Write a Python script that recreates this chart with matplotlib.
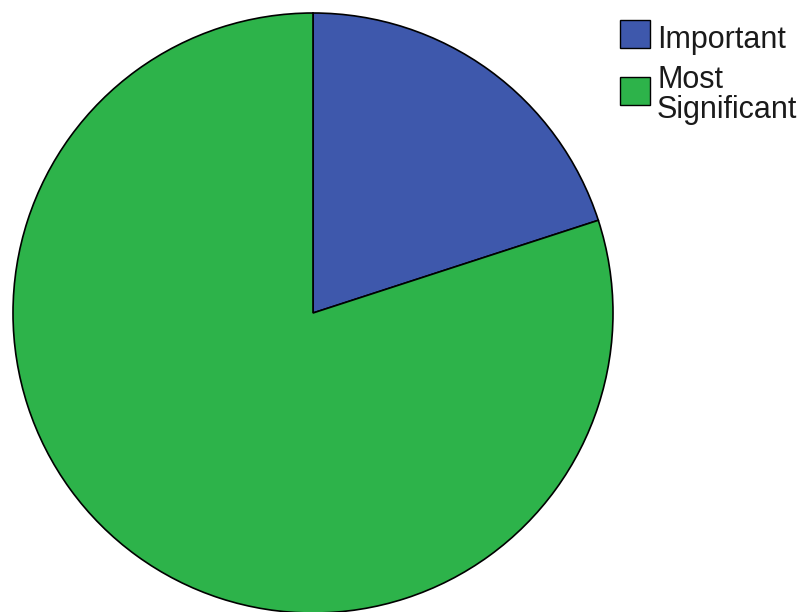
import matplotlib
matplotlib.use("Agg")
import matplotlib.pyplot as plt
from matplotlib.patches import Rectangle

labels = ["Important", "Most\nSignificant"]
values = [20, 80]
colors = ["#3e58ac", "#2db34a"]

W, H = 806, 612
fig = plt.figure(figsize=(W / 100, H / 100), dpi=100)

# pie centre (313, 313) px, radius 300 px
cx, cy, r = 313, 313, 300
ax = fig.add_axes([(cx - r) / W, (H - cy - r) / H, 2 * r / W, 2 * r / H])
wedges, _ = ax.pie(values, colors=colors, startangle=90, counterclock=False,
                   radius=1.0, wedgeprops=dict(edgecolor="black", linewidth=1.2))
ax.set_xlim(-1, 1)
ax.set_ylim(-1, 1)
ax.set_aspect("equal")
ax.axis("off")

# legend drawn by hand (pixel positions from the top left)
font = ["Liberation Sans", "DejaVu Sans"]
box_tops = [20, 77]
for i, (lab, col) in enumerate(zip(labels, colors)):
    top = box_tops[i]
    fig.add_artist(Rectangle((620 / W, 1 - (top + 28) / H), 30 / W, 28 / H,
                             transform=fig.transFigure, facecolor=col,
                             edgecolor="black", linewidth=1.0))
    base = top + 28 if i == 0 else top + 11
    for j, line in enumerate(lab.split("\n")):
        fig.text(657 / W, 1 - (base + 30 * j) / H, line, fontsize=22,
                 family=font, va="baseline", ha="left", color="#1a1a1a")

fig.savefig("out.png", dpi=100)
